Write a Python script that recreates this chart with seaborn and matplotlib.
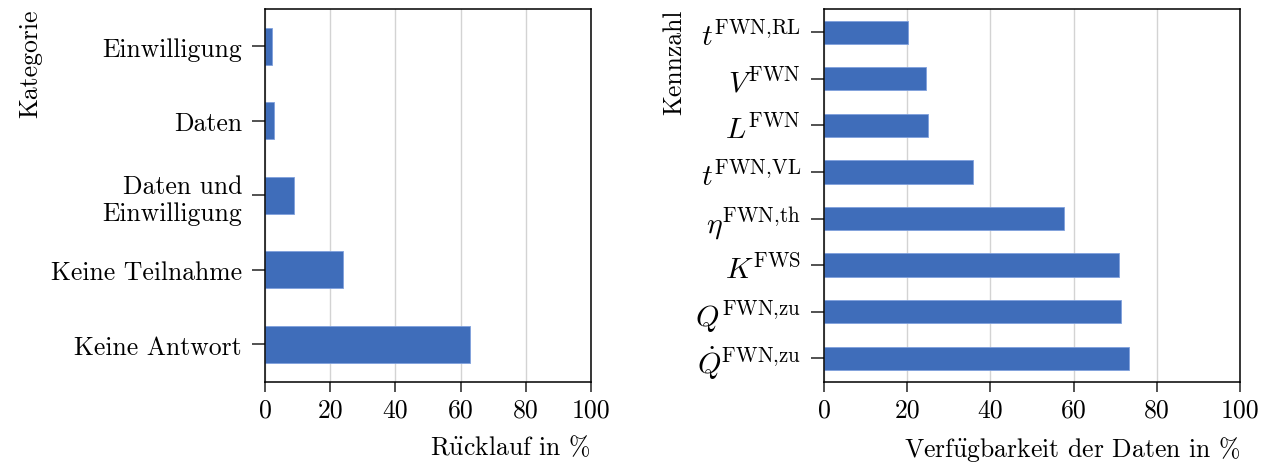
import matplotlib
matplotlib.use("Agg")
import matplotlib.pyplot as plt
import seaborn as sns
import pandas as pd

# ---- data ----
left_categories = ["Einwilligung", "Daten", "Daten und\nEinwilligung",
                   "Keine Teilnahme", "Keine Antwort"]
left_values = [2.2, 2.8, 9.0, 23.9, 63.0]

right_categories = [r"$t^{\mathrm{FWN{,}RL}}$", r"$V^{\mathrm{FWN}}$", r"$L^{\mathrm{FWN}}$",
                    r"$t^{\mathrm{FWN{,}VL}}$", r"$\eta^{\mathrm{FWN{,}th}}$", r"$K^{\mathrm{FWS}}$",
                    r"$Q^{\mathrm{FWN{,}zu}}$", r"$\dot{Q}^{\mathrm{FWN{,}zu}}$"]
right_values = [20.2, 24.6, 25.1, 35.7, 57.7, 70.8, 71.4, 73.3]

x_ticks = [0, 20, 40, 60, 80, 100]

sns.set_theme(style="white")
FS = 18.5
plt.rcParams.update({
    "font.family": ["cmr10", "DejaVu Serif"],
    "mathtext.fontset": "cm",
    "axes.formatter.use_mathtext": True,
    "font.size": FS,
    "xtick.labelsize": FS,
    "ytick.labelsize": FS,
    "axes.labelsize": FS,
    "axes.unicode_minus": False,
    "text.color": "black",
    "axes.labelcolor": "black",
    "xtick.color": "black",
    "ytick.color": "black",
})

BAR = "#3f6dba"
EDGE = "#7fa0dc"

fig = plt.figure(figsize=(12.71, 4.64), dpi=100)
ax1 = fig.add_axes([265 / 1271, 1 - 382.5 / 464, (591 - 265) / 1271, (382.5 - 10) / 464])
ax2 = fig.add_axes([824 / 1271, 1 - 382.5 / 464, (1240 - 824) / 1271, (382.5 - 10) / 464])

df1 = pd.DataFrame({"cat": left_categories, "val": left_values})
df2 = pd.DataFrame({"cat": right_categories, "val": right_values})

for ax, df, xlabel, ylabel in [
    (ax1, df1, r"R$\mathrm{\ddot{u}}$cklauf in %", "Kategorie"),
    (ax2, df2, r"Verf$\mathrm{\ddot{u}}$gbarkeit der Daten in %", "Kennzahl"),
]:
    sns.barplot(data=df, x="val", y="cat", orient="h", width=0.5, color=BAR,
                saturation=1, edgecolor=EDGE, linewidth=0.6, ax=ax, zorder=3)
    ax.set_xlim(0, 100)
    ax.set_ylim(len(df) - 0.5, -0.5)
    ax.set_xticks(x_ticks)
    ax.set_xticklabels([str(t) for t in x_ticks])
    ax.grid(axis="x", color="#d3d3d3", linewidth=1.0, zorder=0)
    ax.grid(axis="y", visible=False)
    ax.set_axisbelow(True)
    for s in ax.spines.values():
        s.set_visible(True)
        s.set_color("black")
        s.set_linewidth(1.1)
        s.set_zorder(5)
    ax.tick_params(axis="y", which="major", length=9.5, width=1.1, color="#222222",
                   left=True, pad=7, labelsize=FS, labelcolor="black")
    ax.tick_params(axis="x", which="major", length=7.5, width=1.1, color="#222222",
                   bottom=True, pad=4, labelsize=FS, labelcolor="black")
    ax.set_xlabel(xlabel, loc="right", fontsize=FS, labelpad=9, color="black")
    ax.set_ylabel(ylabel, loc="top", fontsize=FS, labelpad=6, color="black")

for lbl in ax1.get_yticklabels():
    lbl.set_horizontalalignment("right")
    lbl.set_multialignment("right")
for lbl in ax2.get_yticklabels():
    lbl.set_fontsize(21.5)

fig.savefig("out.png", dpi=100)
